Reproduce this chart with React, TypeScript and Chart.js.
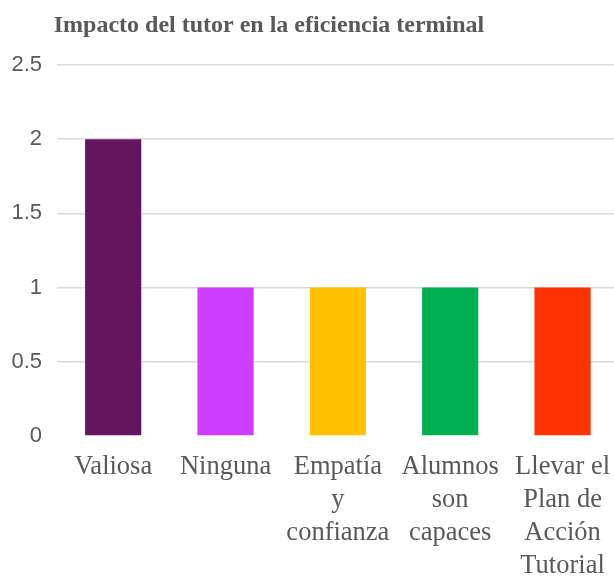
import React, { useEffect, useRef } from "react";
import { Chart, registerables } from "chart.js";

Chart.register(...registerables);

const titleText = "Impacto del tutor en la eficiencia terminal";
const categories: string[][] = [
  ["Valiosa"],
  ["Ninguna"],
  ["Empatía", "y", "confianza"],
  ["Alumnos", "son", "capaces"],
  ["Llevar el", "Plan de", "Acción", "Tutorial"],
];
const values: number[] = [2, 1, 1, 1, 1];
const barColors: string[] = ["#65145F", "#CC3DFF", "#FFC000", "#00B050", "#FF3300"];
const yMax = 2.5;
const yStep = 0.5;

const titlePlugin = {
  id: "customTitle",
  afterDraw(chart: any) {
    const ctx = chart.ctx;
    ctx.save();
    ctx.font = "bold 24px 'Liberation Serif', 'Times New Roman', serif";
    ctx.fillStyle = "#595959";
    ctx.textAlign = "center";
    ctx.textBaseline = "alphabetic";
    ctx.fillText(titleText, 269, 32);
    ctx.restore();
  },
};

export default function App() {
  const ref = useRef<HTMLCanvasElement>(null);
  useEffect(() => {
    if (!ref.current) return;
    const chart = new Chart(ref.current, {
      type: "bar",
      data: {
        labels: categories,
        datasets: [
          {
            data: values,
            backgroundColor: barColors,
            borderWidth: 0,
            barPercentage: 0.5,
            categoryPercentage: 1,
          },
        ],
      },
      options: {
        responsive: false,
        animation: false,
        devicePixelRatio: 1,
        layout: { padding: { top: 65, left: 0, right: 0, bottom: 0 } },
        plugins: {
          legend: { display: false },
          title: { display: false },
          tooltip: { enabled: false },
        },
        scales: {
          x: {
            grid: { display: false, drawTicks: false },
            border: { display: false },
            afterFit(scale: any) {
              scale.height = 144;
            },
            ticks: {
              autoSkip: false,
              maxRotation: 0,
              minRotation: 0,
              padding: 14,
              color: "#595959",
              font: { family: "'Liberation Serif', 'Times New Roman', serif", size: 26.5, lineHeight: 1.25 },
            },
          },
          y: {
            min: 0,
            max: yMax,
            grid: {
              color: (c: any) => (c.tick && c.tick.value === 0 ? "rgba(0,0,0,0)" : "#DADADA"),
              lineWidth: 1.6,
              drawTicks: false,
            },
            border: { display: false },
            afterFit(scale: any) {
              scale.width = 57;
            },
            ticks: {
              stepSize: yStep,
              padding: 15,
              color: "#595959",
              font: { family: "'Liberation Sans', Arial, sans-serif", size: 22 },
              callback: (v: any) => String(Number(v)),
            },
          },
        },
      },
      plugins: [titlePlugin],
    });
    return () => chart.destroy();
  }, []);
  return (
    <div style={{ position: "fixed", left: 0, top: 0, width: 624, height: 580, background: "#fff" }}>
      <canvas ref={ref} width={624} height={580} style={{ display: "block" }} />
    </div>
  );
}
